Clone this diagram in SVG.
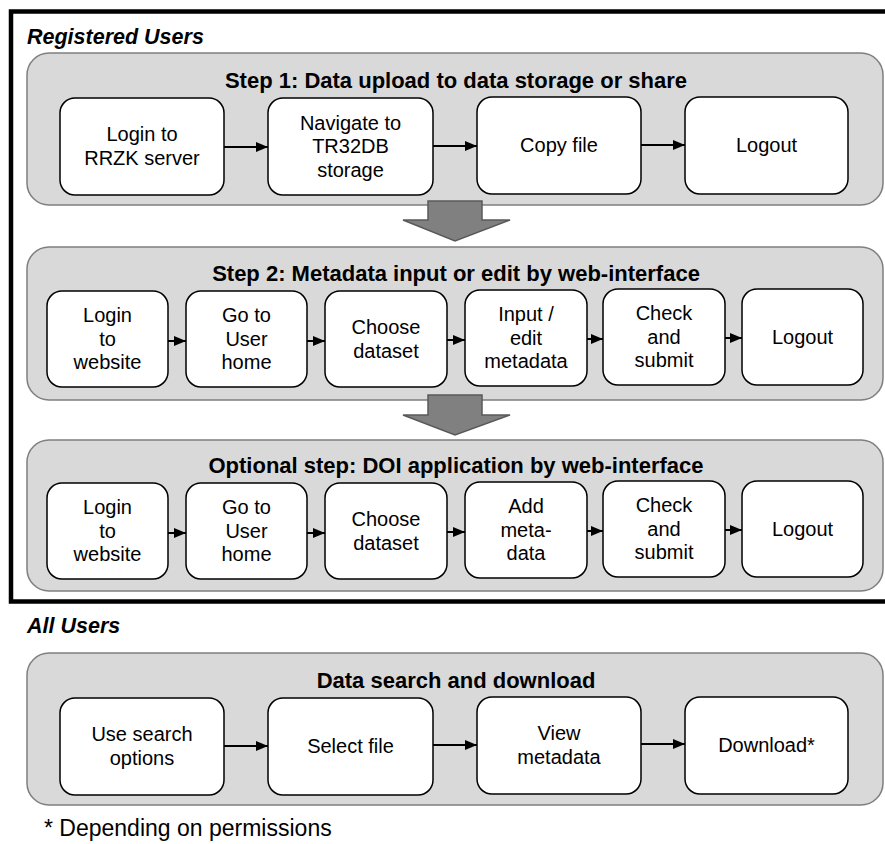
<svg xmlns="http://www.w3.org/2000/svg" width="885" height="844" viewBox="0 0 885 844">
<defs>
<marker id="ah" markerWidth="12" markerHeight="10" refX="12" refY="5" orient="auto" markerUnits="userSpaceOnUse">
<path d="M0,0 L12,5 L0,10 Z" fill="#000"/>
</marker>
</defs>
<style>
.panel{fill:#d9d9d9;stroke:#7f7f7f;stroke-width:1.5}
.node{fill:#fff;stroke:#000;stroke-width:1.5}
.t{font-family:"Liberation Sans",Arial,sans-serif;font-size:20px;fill:#000;text-anchor:middle}
.h{font-family:"Liberation Sans",Arial,sans-serif;font-size:22px;font-weight:bold;fill:#000;text-anchor:middle}
.lab{font-family:"Liberation Sans",Arial,sans-serif;font-size:21.5px;font-weight:bold;font-style:italic;fill:#000}
.foot{font-family:"Liberation Sans",Arial,sans-serif;font-size:23px;fill:#000}
.conn{stroke:#000;stroke-width:2;fill:none}
.big{fill:#808080;stroke:#595959;stroke-width:1.5}
</style>
<rect x="0" y="0" width="885" height="844" fill="#fff"/>
<rect x="11" y="11.5" width="884" height="590" fill="none" stroke="#000" stroke-width="4.5"/>
<text class="lab" x="27" y="44">Registered Users</text>
<text class="lab" x="27" y="633">All Users</text>

<g id="panel1">
<rect class="panel" x="27" y="53" width="856" height="152" rx="22"/>
<text class="h" x="456" y="88">Step 1: Data upload to data storage or share</text>
</g>
<g id="panel2">
<rect class="panel" x="27" y="247" width="856" height="153" rx="22"/>
<text class="h" x="456" y="281">Step 2: Metadata input or edit by web-interface</text>
</g>
<g id="panel3">
<rect class="panel" x="27" y="440" width="856" height="151" rx="22"/>
<text class="h" x="456" y="473">Optional step: DOI application by web-interface</text>
</g>
<g id="panel4">
<rect class="panel" x="27" y="653" width="856" height="152" rx="22"/>
<text class="h" x="456" y="688">Data search and download</text>
</g>

<g id="bigarrow1"><path class="big" d="M428,201 L482,201 L482,220 L510,220 L455,241 L403,220 L428,220 Z"/></g>
<g id="bigarrow2"><path class="big" d="M428,395 L482,395 L482,415 L510,415 L455,435 L403,415 L428,415 Z"/></g>

<g id="s1n1"><rect class="node" x="60" y="98" width="164" height="97" rx="15"/><text class="t" x="142" y="141">Login to<tspan x="142" dy="23.5">RRZK server</tspan></text></g>
<g id="s1n2"><rect class="node" x="268" y="98" width="165" height="97" rx="15"/><text class="t" x="350.5" y="129.5">Navigate to<tspan x="350.5" dy="23.5">TR32DB</tspan><tspan x="350.5" dy="23.5">storage</tspan></text></g>
<g id="s1n3"><rect class="node" x="477" y="97" width="164" height="97" rx="15"/><text class="t" x="559" y="152">Copy file</text></g>
<g id="s1n4"><rect class="node" x="685" y="97" width="163" height="97" rx="15"/><text class="t" x="766.5" y="152">Logout</text></g>

<g id="s2n1"><rect class="node" x="47" y="291" width="121" height="96" rx="15"/><text class="t" x="107.5" y="322">Login<tspan x="107.5" dy="23.5">to</tspan><tspan x="107.5" dy="23.5">website</tspan></text></g>
<g id="s2n2"><rect class="node" x="186" y="291" width="121" height="96" rx="15"/><text class="t" x="246.5" y="322">Go to<tspan x="246.5" dy="23.5">User</tspan><tspan x="246.5" dy="23.5">home</tspan></text></g>
<g id="s2n3"><rect class="node" x="325" y="291" width="122" height="96" rx="15"/><text class="t" x="386" y="334">Choose<tspan x="386" dy="23.5">dataset</tspan></text></g>
<g id="s2n4"><rect class="node" x="465" y="290" width="122" height="96" rx="15"/><text class="t" x="526" y="321">Input /<tspan x="526" dy="23.5">edit</tspan><tspan x="526" dy="23.5">metadata</tspan></text></g>
<g id="s2n5"><rect class="node" x="603" y="289" width="122" height="96" rx="15"/><text class="t" x="664" y="320">Check<tspan x="664" dy="23.5">and</tspan><tspan x="664" dy="23.5">submit</tspan></text></g>
<g id="s2n6"><rect class="node" x="742" y="289" width="121" height="96" rx="15"/><text class="t" x="802.5" y="344">Logout</text></g>

<g id="s3n1"><rect class="node" x="47" y="483" width="121" height="96" rx="15"/><text class="t" x="107.5" y="514">Login<tspan x="107.5" dy="23.5">to</tspan><tspan x="107.5" dy="23.5">website</tspan></text></g>
<g id="s3n2"><rect class="node" x="186" y="483" width="121" height="96" rx="15"/><text class="t" x="246.5" y="514">Go to<tspan x="246.5" dy="23.5">User</tspan><tspan x="246.5" dy="23.5">home</tspan></text></g>
<g id="s3n3"><rect class="node" x="325" y="483" width="122" height="96" rx="15"/><text class="t" x="386" y="526">Choose<tspan x="386" dy="23.5">dataset</tspan></text></g>
<g id="s3n4"><rect class="node" x="465" y="482" width="122" height="96" rx="15"/><text class="t" x="526" y="513">Add<tspan x="526" dy="23.5">meta-</tspan><tspan x="526" dy="23.5">data</tspan></text></g>
<g id="s3n5"><rect class="node" x="603" y="481" width="122" height="96" rx="15"/><text class="t" x="664" y="512">Check<tspan x="664" dy="23.5">and</tspan><tspan x="664" dy="23.5">submit</tspan></text></g>
<g id="s3n6"><rect class="node" x="742" y="481" width="121" height="96" rx="15"/><text class="t" x="802.5" y="536">Logout</text></g>

<g id="s4n1"><rect class="node" x="60" y="698" width="164" height="97" rx="15"/><text class="t" x="142" y="741">Use search<tspan x="142" dy="23.5">options</tspan></text></g>
<g id="s4n2"><rect class="node" x="268" y="698" width="165" height="97" rx="15"/><text class="t" x="350.5" y="753">Select file</text></g>
<g id="s4n3"><rect class="node" x="477" y="697" width="164" height="97" rx="15"/><text class="t" x="559" y="740">View<tspan x="559" dy="23.5">metadata</tspan></text></g>
<g id="s4n4"><rect class="node" x="685" y="697" width="163" height="97" rx="15"/><text class="t" x="766.5" y="752">Download*</text></g>

<g id="connectors">
<line class="conn" x1="224" y1="147" x2="268" y2="147" marker-end="url(#ah)"/>
<line class="conn" x1="433" y1="146" x2="477" y2="146" marker-end="url(#ah)"/>
<line class="conn" x1="641" y1="145" x2="685" y2="145" marker-end="url(#ah)"/>
<line class="conn" x1="168" y1="341" x2="186" y2="341" marker-end="url(#ah)"/>
<line class="conn" x1="307" y1="341" x2="325" y2="341" marker-end="url(#ah)"/>
<line class="conn" x1="447" y1="340" x2="465" y2="340" marker-end="url(#ah)"/>
<line class="conn" x1="587" y1="339" x2="603" y2="339" marker-end="url(#ah)"/>
<line class="conn" x1="725" y1="338" x2="742" y2="338" marker-end="url(#ah)"/>
<line class="conn" x1="168" y1="533" x2="186" y2="533" marker-end="url(#ah)"/>
<line class="conn" x1="307" y1="533" x2="325" y2="533" marker-end="url(#ah)"/>
<line class="conn" x1="447" y1="532" x2="465" y2="532" marker-end="url(#ah)"/>
<line class="conn" x1="587" y1="531" x2="603" y2="531" marker-end="url(#ah)"/>
<line class="conn" x1="725" y1="530" x2="742" y2="530" marker-end="url(#ah)"/>
<line class="conn" x1="224" y1="746" x2="268" y2="746" marker-end="url(#ah)"/>
<line class="conn" x1="433" y1="745" x2="477" y2="745" marker-end="url(#ah)"/>
<line class="conn" x1="641" y1="744" x2="685" y2="744" marker-end="url(#ah)"/>
</g>
<text class="foot" x="44" y="836">* Depending on permissions</text>
</svg>
